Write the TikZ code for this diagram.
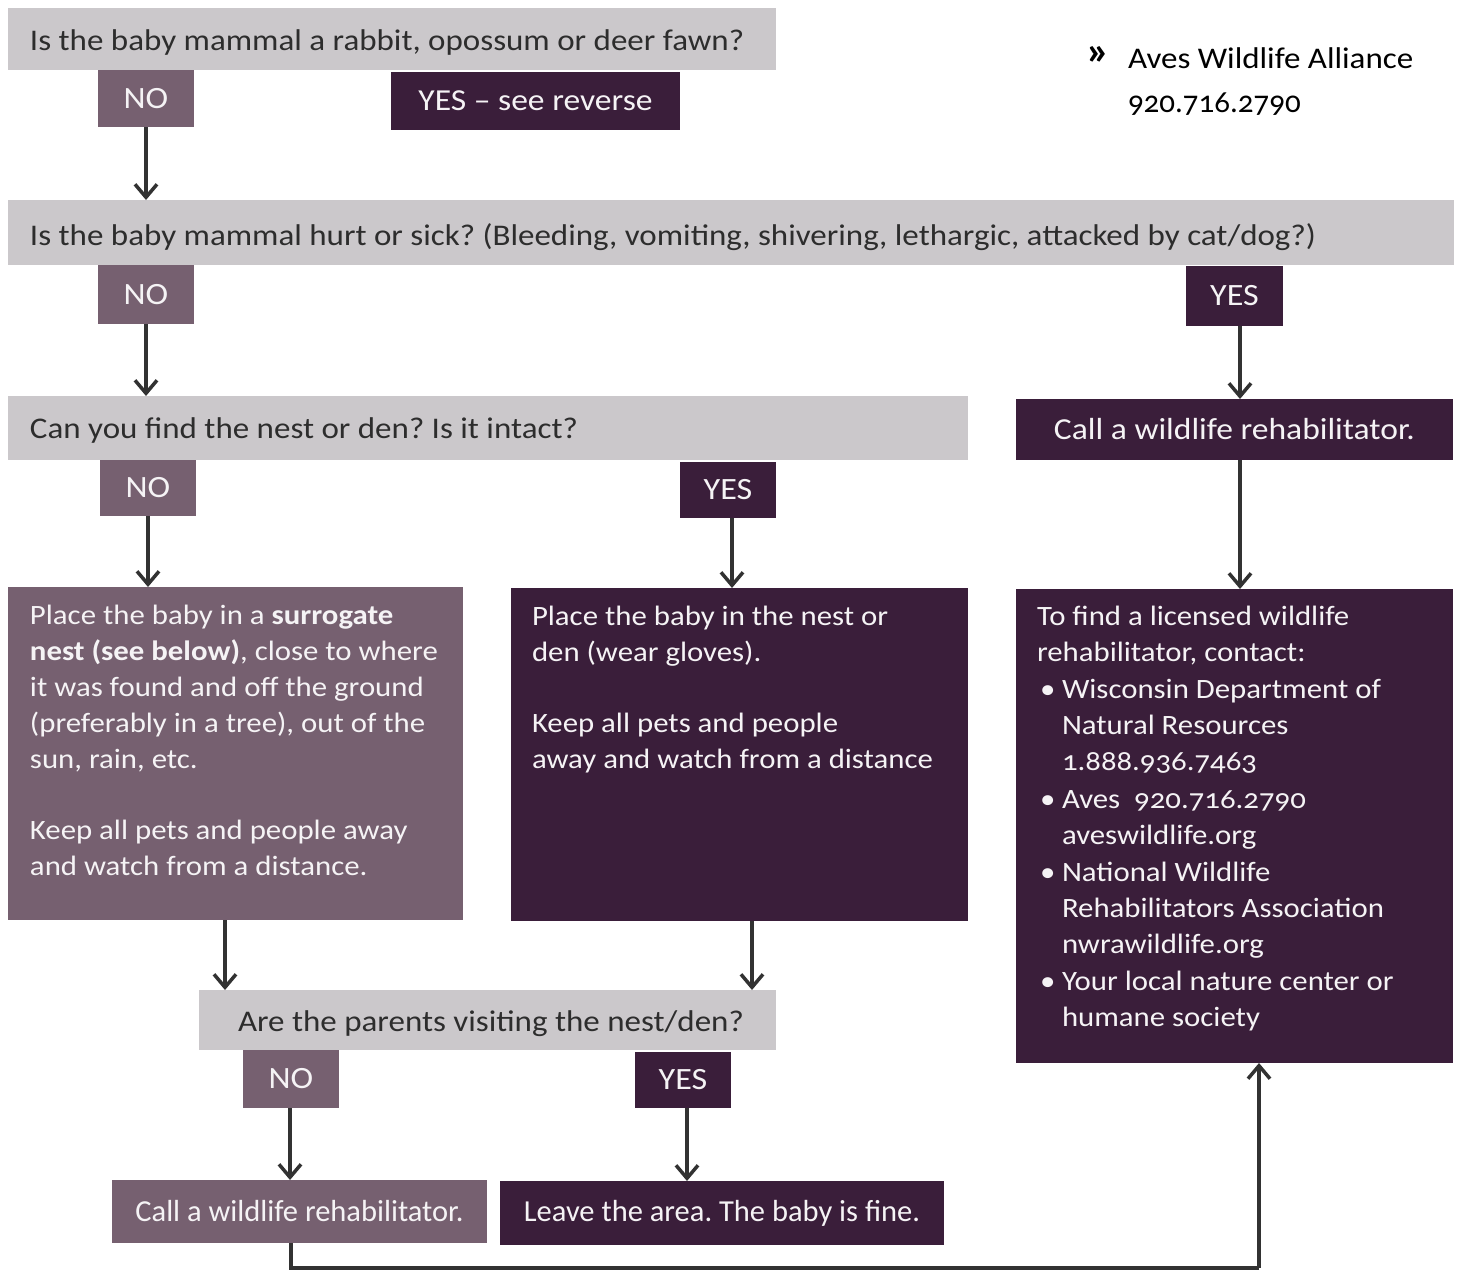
\documentclass[tikz,border=0pt]{standalone}
\usepackage{fontspec}
\setmainfont{Carlito}[Numbers=OldStyle, FakeStretch=1.1]
\newfontfamily\condfont{Carlito}[Numbers=OldStyle]
\usetikzlibrary{arrows.meta}
\definecolor{qgray}{RGB}{203,200,203}
\definecolor{mauve}{RGB}{118,96,112}
\definecolor{plum}{RGB}{58,30,58}
\definecolor{ink}{RGB}{45,45,45}
\definecolor{linec}{RGB}{50,50,50}
\definecolor{boxtext}{RGB}{245,243,245}
\begin{document}
\frenchspacing
\begin{tikzpicture}[x=1pt,y=-1pt,
  every node/.style={inner sep=0pt, outer sep=0pt},
  sz/.style 2 args={minimum width=#1pt, minimum height=#2pt},
  qbar/.style={fill=qgray, anchor=north west},
  nobox/.style={fill=mauve, text=boxtext, anchor=north west, font=\fontsize{31}{36}\selectfont},
  yesbox/.style={fill=plum, text=boxtext, anchor=north west, font=\fontsize{31}{36}\selectfont},
  widelbl/.style={font=\fontsize{30.5}{36}\selectfont},
  condlbl/.style={font=\condfont\fontsize{30.5}{36}\selectfont},
  qtext/.style={text=ink, anchor=base west, font=\fontsize{30}{36}\selectfont},
  body/.style={text=boxtext, anchor=north west, align=left, font=\fontsize{28}{36}\selectfont},
  hdr/.style={text=black, anchor=base west, font=\fontsize{30}{36}\selectfont},
  arr/.style={draw=linec, line width=3.5pt, -{Straight Barb[length=13pt,width=22pt]}},
  conn/.style={draw=linec, line width=3.5pt},
]
\useasboundingbox (0,0) rectangle (1460,1272);

% question bars
\node[qbar, sz={768}{62}] (q1) at (8,8) {};
\node[qtext] (q1t) at (30,50) {Is the baby mammal a rabbit, opossum or deer fawn?};
\node[qbar, sz={1446}{65}] (q2) at (8,200) {};
\node[qtext] (q2t) at (30,245) {Is the baby mammal hurt or sick? (Bleeding, vomiting, shivering, lethargic, attacked by cat/dog?)};
\node[qbar, sz={960}{64}] (q3) at (8,396) {};
\node[qtext] (q3t) at (30,438) {Can you find the nest or den? Is it intact?};
\node[qbar, sz={577}{60}] (q4) at (199,990) {};
\node[qtext] (q4t) at (238,1031) {Are the parents visiting the nest/den?};

% header
\node[hdr, font=\bfseries\fontsize{40}{40}\selectfont] (gt) at (1086,64) {»};
\node[hdr] (org) at (1128,68) {Aves Wildlife Alliance};
\node[hdr, font=\condfont\fontsize{31}{36}\selectfont] (tel) at (1128,112) {920.716.2790};

% answer boxes
\node[nobox, sz={96}{57}] (no1) at (98,70) {NO};
\node[yesbox, widelbl, sz={289}{58}] (yes1) at (391,72) {YES -- see reverse};
\node[nobox, sz={96}{59}] (no2) at (98,265) {NO};
\node[yesbox, sz={97}{60}] (yes2) at (1186,266) {YES};
\node[nobox, sz={96}{56}] (no3) at (100,460) {NO};
\node[yesbox, sz={96}{56}] (yes3) at (680,462) {YES};
\node[yesbox, widelbl, sz={437}{61}] (call) at (1016,399) {Call a wildlife rehabilitator.};
\node[nobox, sz={96}{58}] (no4) at (243,1050) {NO};
\node[yesbox, sz={96}{56}] (yes4) at (635,1052) {YES};
\node[nobox, condlbl, sz={375}{63}] (call2) at (112,1180) {Call a wildlife rehabilitator.};
\node[yesbox, condlbl, sz={444}{64}] (leave) at (500,1181) {Leave the area. The baby is fine.};

% big boxes
\node[fill=mauve, anchor=north west, sz={455}{333}] (left) at (8,587) {};
\node[body] (leftt) at (30,599) {\strut Place the baby in a \textbf{surrogate}\\
\textbf{nest (see below)}, close to where\\
it was found and off the ground\\
(preferably in a tree), out of the\\
sun, rain, etc.\\[35pt]
Keep all pets and people away\\
and watch from a distance.};

\node[fill=plum, anchor=north west, sz={457}{333}] (mid) at (511,588) {};
\node[body] (midt) at (532,600) {\strut Place the baby in the nest or\\
den (wear gloves).\\[35pt]
Keep all pets and people\\
away and watch from a distance};

\node[fill=plum, anchor=north west, sz={437}{474}] (right) at (1016,589) {};
\newcommand{\bul}{\makebox[25pt][l]{\hspace{3pt}•}}
\newcommand{\ind}{\hspace*{25pt}}
\node[body] (rightt) at (1037,600) {\strut To find a licensed wildlife\\
rehabilitator, contact:\\[1pt]
\bul Wisconsin Department of\\
\ind Natural Resources\\
\ind 1.888.936.7463\\[2pt]
\bul Aves\ \ 920.716.2790\\
\ind aveswildlife.org\\[1pt]
\bul National Wildlife\\
\ind Rehabilitators Association\\
\ind nwrawildlife.org\\[1pt]
\bul Your local nature center or\\
\ind humane society};

% connectors
\coordinate (q4l) at (225,990);
\coordinate (q4r) at (752,990);
\coordinate (bl) at (291,1268);
\coordinate (br) at (1259,1268);
\coordinate (rx) at (1240,0);
\coordinate (y3x) at (732,0);
\coordinate (n4x) at (290,0);
\coordinate (y4x) at (687,0);

\draw[arr] (no1.south) -- (no1.south |- q2.north);
\draw[arr] (no2.south) -- (no2.south |- q3.north);
\draw[arr] (yes2.south -| rx) -- (rx |- call.north);
\draw[arr] (no3.south) -- (no3.south |- left.north);
\draw[arr] (yes3.south -| y3x) -- (y3x |- mid.north);
\draw[arr] (call.south -| rx) -- (rx |- right.north);
\draw[arr] (left.south -| q4l) -- (q4l);
\draw[arr] (mid.south -| q4r) -- (q4r);
\draw[arr] (no4.south -| n4x) -- (n4x |- call2.north);
\draw[arr] (yes4.south -| y4x) -- (y4x |- leave.north);
\draw[conn] (call2.south -| bl) -- (bl) -- (br);
\draw[arr] (br) -- (right.south -| br);
\end{tikzpicture}
\end{document}
